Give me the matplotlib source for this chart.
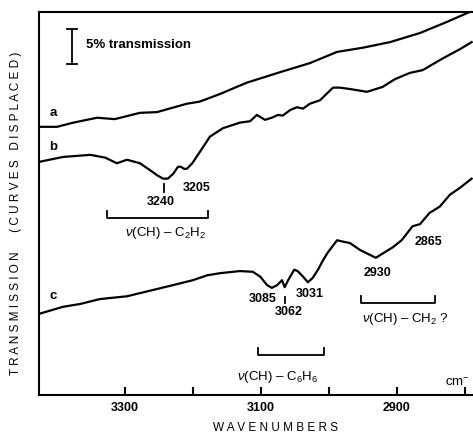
import matplotlib.pyplot as plt

# wavenumber (cm-1) / transmission (%, curves displaced)
wn_a = [3426, 3400, 3376, 3341, 3315, 3278, 3253, 3209, 3190, 3160, 3121,
        3072, 3028, 2988, 2950, 2910, 2866, 2826, 2793]
tr_a = [38.3, 38.3, 38.9, 39.6, 39.4, 40.3, 40.4, 41.6, 41.9, 43.0, 44.6,
        46.1, 47.4, 49.0, 49.6, 50.4, 51.7, 53.3, 54.7]

wn_b = [3426, 3391, 3351, 3329, 3312, 3297, 3278, 3263, 3253, 3244, 3237,
        3229, 3222, 3218, 3213, 3209, 3201, 3190, 3175, 3156, 3131, 3116,
        3106, 3094, 3084, 3075, 3068, 3057, 3047, 3038, 3028, 3013, 2994,
        2984, 2969, 2944, 2921, 2903, 2881, 2862, 2832, 2807, 2790]
tr_b = [33.3, 34.0, 34.3, 33.9, 33.1, 33.6, 33.1, 32.1, 31.4, 30.9, 30.9,
        31.6, 32.6, 32.6, 32.3, 32.3, 33.1, 34.7, 36.9, 38.1, 38.9, 39.1,
        40.0, 39.3, 39.6, 40.0, 39.9, 40.7, 41.1, 40.9, 41.6, 42.1, 43.9,
        43.9, 43.7, 43.3, 44.0, 45.1, 46.0, 46.4, 48.1, 49.4, 50.4]

wn_c = [3426, 3391, 3366, 3337, 3297, 3263, 3229, 3200, 3179, 3160, 3131,
        3112, 3101, 3091, 3084, 3076, 3069, 3065, 3060, 3051, 3046, 3038,
        3031, 3024, 3016, 3010, 3002, 2988, 2979, 2969, 2954, 2931, 2906,
        2893, 2877, 2866, 2852, 2837, 2822, 2807, 2790]
tr_c = [11.6, 12.6, 13.0, 13.7, 14.1, 14.9, 15.7, 16.4, 17.1, 17.4, 17.7,
        17.6, 16.9, 15.7, 15.3, 15.7, 16.4, 15.4, 16.4, 17.9, 17.7, 16.9,
        16.1, 16.7, 17.9, 19.0, 20.3, 22.1, 21.9, 21.7, 20.7, 19.6, 21.1,
        22.1, 24.1, 24.4, 26.0, 26.9, 28.6, 29.6, 30.9]

peak_labels = ["3240", "3205", "3085", "3062", "3031", "2930", "2865"]
peak_pos = [(3247, 27.6), (3194, 29.6), (3097, 13.7), (3059, 11.9),
            (3028, 14.4), (2928, 17.4), (2853, 21.9)]

bands = [r"$\nu$(CH) – C$_2$H$_2$", r"$\nu$(CH) – C$_6$H$_6$",
         r"$\nu$(CH) – CH$_2$ ?"]
band_ranges = [(3326, 3178), (3104, 3007), (2953, 2844)]
band_y = [25.3, 5.7, 13.1]
band_text_pos = [(3241, 23.1), (3076, 2.5), (2887, 10.9)]

plt.rcParams['font.family'] = ['Liberation Sans', 'DejaVu Sans']
plt.rcParams['mathtext.fontset'] = 'custom'
plt.rcParams['mathtext.rm'] = 'Liberation Sans'
plt.rcParams['mathtext.it'] = 'Liberation Sans:italic'

fig = plt.figure(figsize=(4.73, 4.34), dpi=100)
ax = fig.add_axes([39 / 473, 39 / 434, 434 / 473, 383 / 434])

for wn, tr in [(wn_a, tr_a), (wn_b, tr_b), (wn_c, tr_c)]:
    ax.plot(wn, tr, color='black', lw=1.6, solid_joinstyle='round')

ax.set_xlim(3426.5, 2788)
ax.set_ylim(0, 54.7)
ax.spines['right'].set_visible(False)
for s in ['left', 'top', 'bottom']:
    ax.spines[s].set_linewidth(1.5)

num = dict(fontsize=9, fontweight='bold')

ax.set_xticks([3300, 3200, 3100, 3000, 2900, 2800])
ax.set_xticklabels(['3300', '', '3100', '', '2900', ''], **num)
ax.tick_params(axis='x', direction='in', length=6, width=1.5, pad=5)
ax.set_yticks([])

fig.text(275 / 473, 1 - 428 / 434, 'W A V E N U M B E R S',
         fontsize=8.5, ha='center', va='center')
fig.text(16 / 473, 1 - 213 / 434,
         'T R A N S M I S S I O N      ( C U R V E S   D I S P L A C E D )',
         fontsize=8.5, rotation=90, ha='center', va='center')

# curve letters
for letter, y in zip('abc', [40.3, 35.4, 14.1]):
    ax.text(3406, y, letter, fontsize=9.5, fontweight='bold',
            ha='center', va='center')

# 5 % scale bar
ax.plot([3378, 3378], [47.3, 52.3], color='black', lw=1.3)
ax.plot([3385, 3371], [52.3, 52.3], color='black', lw=1.3)
ax.plot([3385, 3371], [47.3, 47.3], color='black', lw=1.3)
ax.text(3357, 50.0, '5% transmission', fontsize=9.5, fontweight='bold',
        ha='left', va='center')

for lab, (x, y) in zip(peak_labels, peak_pos):
    ax.text(x, y, lab, ha='center', va='center', **num)
# small markers under the 3240 and 3062 bands
ax.plot([3243, 3243], [29.0, 30.1], color='black', lw=1.3)
ax.plot([3065, 3065], [13.1, 14.0], color='black', lw=1.3)

for text, (x0, x1), y, (tx, ty) in zip(bands, band_ranges, band_y,
                                       band_text_pos):
    ax.plot([x0, x0, x1, x1], [y + 1.0, y, y, y + 1.0], color='black',
            lw=1.3)
    ax.text(tx, ty, text, fontsize=9.5, ha='center', va='center')

ax.text(2793, 1.7, 'cm$^{-}$', fontsize=9.5, ha='right', va='center')

fig.savefig('out.png', dpi=100)
